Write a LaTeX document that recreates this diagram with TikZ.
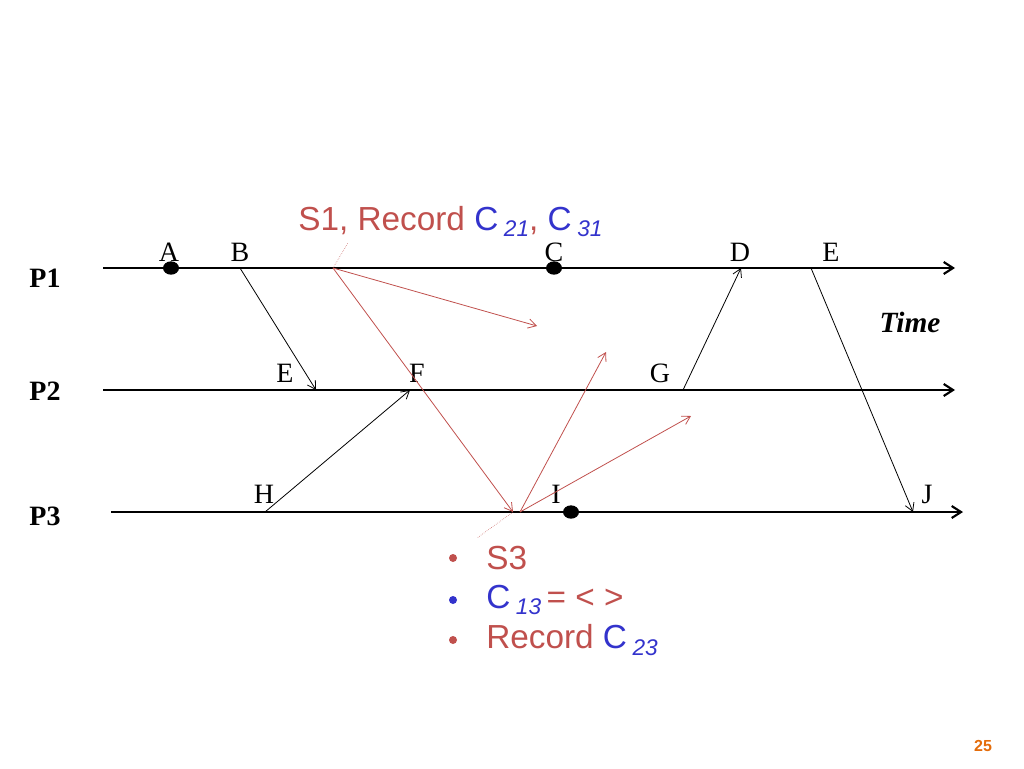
\documentclass[tikz,border=0pt]{standalone}
\usepackage{fontspec}
\setmainfont{Liberation Serif}
\setsansfont{Liberation Sans}
\usetikzlibrary{arrows.meta,shapes.geometric}
\definecolor{rd}{RGB}{192,80,77}
\definecolor{bl}{RGB}{51,51,204}
\definecolor{og}{RGB}{228,108,10}
\newcommand{\subsc}[1]{\,\raisebox{-0.35ex}{\fontsize{17}{17}\selectfont\itshape #1}}
\begin{document}
\begin{tikzpicture}[x=0.75pt,y=-0.75pt,
 proc/.style={line width=1.6pt,-{Straight Barb[length=7pt,width=9pt]}},
 msg/.style={line width=0.6pt,-{Straight Barb[length=6pt,width=7pt]}},
 rmsg/.style={msg,rd},
 ev/.style={font=\fontsize{21}{21}\selectfont,inner sep=0pt},
 pl/.style={font=\bfseries\fontsize{21}{21}\selectfont,inner sep=0pt},
 dot/.style={fill=black,ellipse,minimum width=12pt,minimum height=10pt,inner sep=0pt},
 sf/.style={font=\sffamily\fontsize{25}{25}\selectfont,inner sep=0pt,anchor=west}]
\useasboundingbox (0,0) rectangle (1024,768);
\coordinate (p1s) at (103,268); \coordinate (p1e) at (955,268);
\coordinate (p2s) at (103,390); \coordinate (p2e) at (955,390);
\coordinate (p3s) at (111,512); \coordinate (p3e) at (963,512);
\draw[proc] (p1s)--(p1e); \draw[proc] (p2s)--(p2e); \draw[proc] (p3s)--(p3e);
\node[pl] (P1) at (45,278) {P1};
\node[pl] (P2) at (45,391) {P2};
\node[pl] (P3) at (45,516) {P3};
\node[font=\bfseries\itshape\fontsize{22}{22}\selectfont] (time) at (910,322) {Time};
\foreach \n/\x/\y/\t in {lA/169/252/A,lB/240/252/B,lC/554/252/C,lD/740/252/D,lE/831/252/E,lE2/285/373/E,lF/417/373/F,lG/660/373/G,lH/264/494/H,lI/556/494/I,lJ/927/494/J}
 \node[ev] (\n) at (\x,\y) {\t};
\node[dot] (dA) at (171,268) {};
\node[dot] (dC) at (554,268) {};
\node[dot] (dI) at (571,512) {};
\coordinate (b) at (240,268); \coordinate (e) at (316,390);
\coordinate (h) at (265,512); \coordinate (f) at (410,390);
\coordinate (g) at (683,390); \coordinate (d) at (741,268);
\coordinate (e1) at (811,268); \coordinate (j) at (913,512);
\draw[msg] (b)--(e); \draw[msg] (h)--(f); \draw[msg] (g)--(d); \draw[msg] (e1)--(j);
\coordinate (s1) at (333,268); \coordinate (s3) at (513,512); \coordinate (s3o) at (520,512);
\coordinate (r1) at (537,326); \coordinate (r2) at (606,352); \coordinate (r3) at (691,416);
\draw[rmsg] (s1)--(r1); \draw[rmsg] (s1)--(s3); \draw[rmsg] (s3o)--(r2); \draw[rmsg] (s3o)--(r3);
\coordinate (c1) at (348,243); \coordinate (c3) at (477,538);
\draw[rd,densely dotted,line width=0.4pt] (s1)--(c1);
\draw[rd,densely dotted,line width=0.4pt] (s3)--(c3);
\node[sf,anchor=base west] (s1lab) at (298,230) {\textcolor{rd}{S1, Record }\textcolor{bl}{C\subsc{21}}\textcolor{rd}{, }\textcolor{bl}{C\subsc{31}}};
\node[sf] (b1) at (486,558) {\textcolor{rd}{S3}};
\node[sf] (b2) at (486,600) {\textcolor{bl}{C\subsc{13}}\textcolor{rd}{\,= < >}};
\node[sf] (b3) at (486,640) {\textcolor{rd}{Record }\textcolor{bl}{C\subsc{23}}};
\fill[rd] (453,558) circle (3pt);
\fill[bl] (453,600) circle (3pt);
\fill[rd] (453,640) circle (3pt);
\node[font=\sffamily\bfseries\fontsize{12}{12}\selectfont,text=og] (pg) at (983,746) {25};
\end{tikzpicture}
\end{document}
